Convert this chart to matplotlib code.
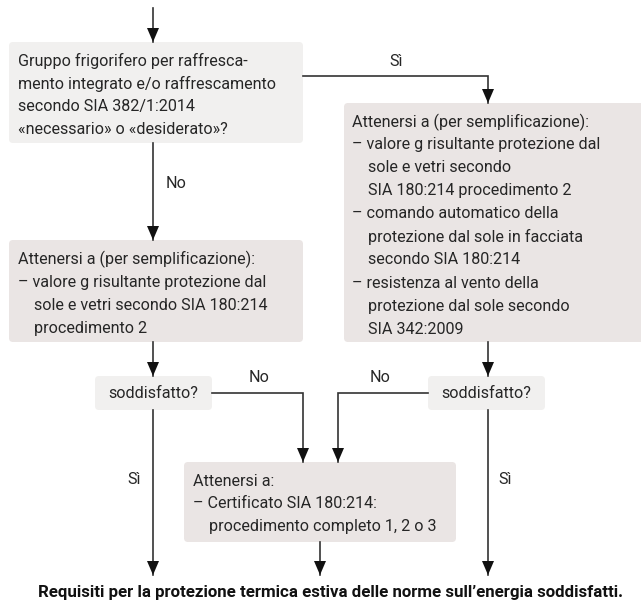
import matplotlib
matplotlib.use("Agg")
import matplotlib.pyplot as plt
from matplotlib.patches import FancyBboxPatch, Polygon

# texts of the flowchart
question_lines = ["Gruppo frigorifero per raffresca-",
                  "mento integrato e/o raffrescamento",
                  "secondo SIA 382/1:2014",
                  "«necessario» o «desiderato»?"]
right_lines = ["Attenersi a (per semplificazione):",
               "– valore g risultante protezione dal",
               "sole e vetri secondo",
               "SIA 180:214 procedimento 2",
               "– comando automatico della",
               "protezione dal sole in facciata",
               "secondo SIA 180:214",
               "– resistenza al vento della",
               "protezione dal sole secondo",
               "SIA 342:2009"]
left_lines = ["Attenersi a (per semplificazione):",
              "– valore g risultante protezione dal",
              "sole e vetri secondo SIA 180:214",
              "procedimento 2"]
bottom_lines = ["Attenersi a:",
                "– Certificato SIA 180:214:",
                "procedimento completo 1, 2 o 3"]
check_label = "soddisfatto?"
yes_label = "Sì"
no_label = "No"
result_text = "Requisiti per la protezione termica estiva delle norme sull\u2019energia soddisfatti."

FONT = ["Roboto", "DejaVu Sans"]
FS = 11.6
FS_BOLD = 12.2
TXT = "#262626"
LINE = "#333333"
GREY1 = "#f1f0ef"
GREY2 = "#eae5e4"
PITCH = 23


def box(ax, x0, y0, x1, y1, color):
    p = FancyBboxPatch((x0, y0), x1 - x0, y1 - y0,
                       boxstyle="round,pad=0,rounding_size=4",
                       fc=color, ec="none", zorder=1)
    ax.add_patch(p)


def box_text(ax, lines, x, y_first, indent=16):
    for i, s in enumerate(lines):
        xx = x
        if i > 0 and not s.startswith("–"):
            xx = x + indent
        ax.text(xx, y_first + i * PITCH, s, fontsize=FS, family=FONT,
                color=TXT, va="center", ha="left", zorder=3)


def path_arrow(ax, pts):
    xs = [p[0] for p in pts]
    ys = [p[1] for p in pts]
    ax.plot(xs, ys, color=LINE, lw=1.2, solid_joinstyle="miter", zorder=2)
    xb, yb = pts[-1]
    # arrow heads only point down in this chart
    hw, hl = 6, 14
    head = Polygon([(xb - hw, yb - hl), (xb + hw, yb - hl), (xb, yb)],
                   closed=True, fc="#111111", ec="none", zorder=2)
    ax.add_patch(head)


def label(ax, x, y, s, ha="center"):
    ax.text(x, y, s, fontsize=FS, family=FONT, color=TXT,
            ha=ha, va="center", zorder=3)


fig = plt.figure(figsize=(6.41, 6.01), dpi=100)
ax = fig.add_axes([0, 0, 1, 1])
ax.set_xlim(0, 641)
ax.set_ylim(601, 0)
ax.axis("off")

# boxes
box(ax, 9, 42, 303, 143, GREY1)
box(ax, 344, 103, 648, 342, GREY2)
box(ax, 9, 240, 303, 342, GREY2)
box(ax, 95, 376, 212, 410, GREY1)
box(ax, 428, 376, 545, 410, GREY1)
box(ax, 184, 462, 456, 542, GREY2)

box_text(ax, question_lines, 18, 61, indent=0)
box_text(ax, right_lines, 352, 122)
box_text(ax, left_lines, 18, 259)
box_text(ax, bottom_lines, 193, 481)
label(ax, 153.5, 394, check_label)
label(ax, 486.5, 394, check_label)

# arrows
path_arrow(ax, [(153, 8), (153, 42)])
path_arrow(ax, [(303, 76), (488, 76), (488, 103)])
path_arrow(ax, [(153, 143), (153, 240)])
path_arrow(ax, [(153, 342), (153, 376)])
path_arrow(ax, [(488, 342), (488, 376)])
path_arrow(ax, [(212, 393), (303, 393), (303, 462)])
path_arrow(ax, [(428, 393), (338, 393), (338, 462)])
path_arrow(ax, [(153, 410), (153, 575)])
path_arrow(ax, [(488, 410), (488, 575)])
path_arrow(ax, [(320, 542), (320, 575)])

label(ax, 396, 62, yes_label)
label(ax, 166, 183, no_label, ha="left")
label(ax, 259, 377, no_label)
label(ax, 380, 377, no_label)
label(ax, 134, 480, yes_label)
label(ax, 505, 480, yes_label)

ax.text(330, 593, result_text, fontsize=FS_BOLD, family=FONT, weight="bold",
        color="#111111", ha="center", va="center")

fig.savefig("out.png", dpi=100)
